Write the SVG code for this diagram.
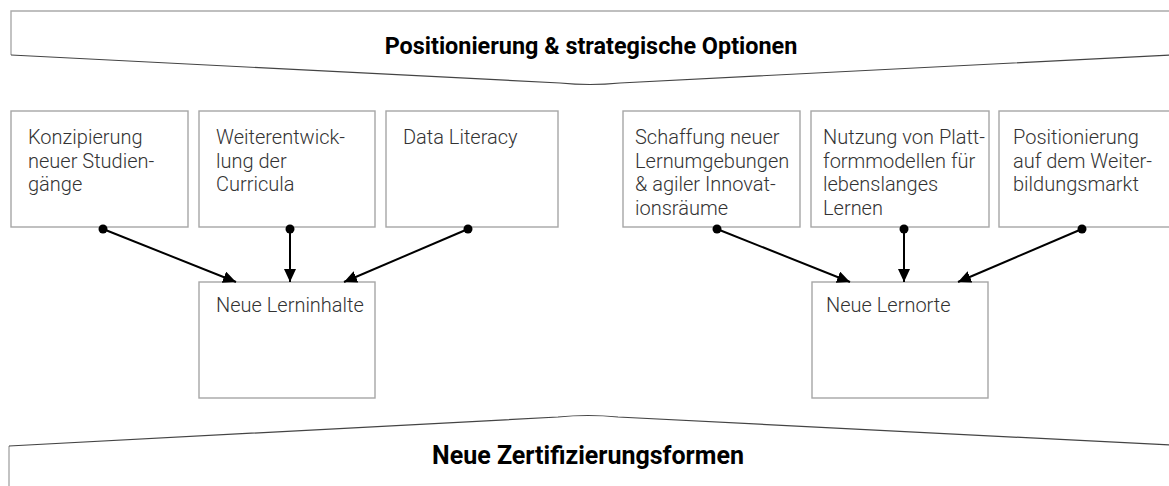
<svg xmlns="http://www.w3.org/2000/svg" width="1169" height="486" viewBox="0 0 1169 486">
<style>
.box{fill:#fff;stroke:#a6a6a6;stroke-width:1.4}
.t{font-family:Roboto,"Liberation Sans",sans-serif;font-weight:300;font-size:20px;fill:#333}
.h{font-family:Roboto,"Liberation Sans",sans-serif;font-weight:700;fill:#000;text-anchor:middle}
.edge{stroke:#000;stroke-width:2;fill:none;marker-end:url(#ah)}
.dot{fill:#000}
</style>
<defs>
<marker id="ah" markerUnits="userSpaceOnUse" markerWidth="14" markerHeight="12" refX="13" refY="6" orient="auto">
<path d="M0,0 L13,6 L0,12 Z" fill="#000"/>
</marker>
</defs>
<rect width="1169" height="486" fill="#fff"/>
<g id="banner-top">
<path d="M11,55 V11 H1170" fill="none" stroke="#aaa" stroke-width="1.4"/>
<path d="M11,55 L560,83 Q590,86 620,83 L1170,55" fill="none" stroke="#444" stroke-width="1.2"/>
<text class="h" x="591" y="54" font-size="23.4">Positionierung &amp; strategische Optionen</text>
</g>
<g id="banner-bottom">
<path d="M9,486 V446" fill="none" stroke="#aaa" stroke-width="1.4"/>
<path d="M9,446 L558,417 Q588,414 618,417 L1170,445" fill="none" stroke="#444" stroke-width="1.2"/>
<text class="h" x="588" y="464" font-size="25">Neue Zertifizierungsformen</text>
</g>
<g id="n1"><rect class="box" x="11" y="111" width="177" height="116"/>
<text class="t" x="28" y="144">Konzipierung</text><text class="t" x="28" y="167.5">neuer Studien-</text><text class="t" x="28" y="191">gänge</text></g>
<g id="n2"><rect class="box" x="199" y="111" width="176" height="116"/>
<text class="t" x="216" y="144">Weiterentwick-</text><text class="t" x="216" y="167.5">lung der</text><text class="t" x="216" y="191">Curricula</text></g>
<g id="n3"><rect class="box" x="386" y="111" width="172" height="116"/>
<text class="t" x="403" y="144">Data Literacy</text></g>
<g id="n4"><rect class="box" x="623" y="111" width="177" height="116"/>
<text class="t" x="635" y="144">Schaffung neuer</text><text class="t" x="635" y="167.5">Lernumgebungen</text><text class="t" x="635" y="191">&amp; agiler Innovat-</text><text class="t" x="635" y="214.5">ionsräume</text></g>
<g id="n5"><rect class="box" x="811" y="111" width="178" height="116"/>
<text class="t" x="823" y="144">Nutzung von Platt-</text><text class="t" x="823" y="167.5">formmodellen für</text><text class="t" x="823" y="191">lebenslanges</text><text class="t" x="823" y="214.5">Lernen</text></g>
<g id="n6"><rect class="box" x="999" y="111" width="175" height="116"/>
<text class="t" x="1013" y="144">Positionierung</text><text class="t" x="1013" y="167.5">auf dem Weiter-</text><text class="t" x="1013" y="191">bildungsmarkt</text></g>
<g id="n7"><rect class="box" x="199" y="282" width="176" height="116"/>
<text class="t" x="216" y="312">Neue Lerninhalte</text></g>
<g id="n8"><rect class="box" x="812" y="282" width="176" height="116"/>
<text class="t" x="826" y="312">Neue Lernorte</text></g>
<g id="connectors">
<line class="edge" x1="103" y1="229" x2="236" y2="282"/>
<line class="edge" x1="290" y1="229" x2="290" y2="282"/>
<line class="edge" x1="468" y1="229" x2="344" y2="282"/>
<line class="edge" x1="717" y1="229" x2="850" y2="282"/>
<line class="edge" x1="904" y1="229" x2="904" y2="282"/>
<line class="edge" x1="1082" y1="229" x2="958" y2="282"/>
<circle class="dot" cx="103" cy="229" r="4.5"/>
<circle class="dot" cx="290" cy="229" r="4.5"/>
<circle class="dot" cx="468" cy="229" r="4.5"/>
<circle class="dot" cx="717" cy="229" r="4.5"/>
<circle class="dot" cx="904" cy="229" r="4.5"/>
<circle class="dot" cx="1082" cy="229" r="4.5"/>
</g>
</svg>
